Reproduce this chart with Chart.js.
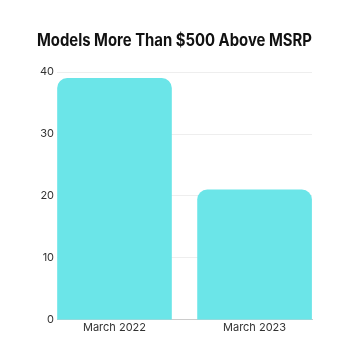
<!DOCTYPE html>
<html><head><meta charset="utf-8">
<script src="https://cdn.jsdelivr.net/npm/chart.js@4"></script>
<style>html,body{margin:0;padding:0;background:#fff;}#w{width:350px;height:350px;}</style>
</head><body><div id="w"><canvas id="c" width="350" height="350"></canvas></div>
<script>
const categories = ["March 2022", "March 2023"];
const values = [39, 21];
const titleText = "Models More Than $500 Above MSRP";
const points = values.map((v, i) => ({ x: i, y: v }));
new Chart(document.getElementById('c'), {
  type: 'bar',
  data: { datasets: [{ data: points, backgroundColor: '#6be5e8', borderRadius: 10, borderSkipped: 'bottom', barThickness: 114 }] },
  options: {
    responsive: false, animation: false,
    layout: { padding: { left: 37, right: 38, top: 31, bottom: 15 } },
    plugins: {
      legend: { display: false },
      title: { display: true, text: titleText, color: '#111', font: { family: 'Inter', size: 16.8, weight: 'bold' }, padding: { top: 0, bottom: 21 } },
      tooltip: { enabled: false }
    },
    scales: {
      x: { type: 'linear', offset: false, min: -0.41, max: 1.41, grid: { display: false, drawTicks: false }, border: { color: '#ccc' },
           afterBuildTicks: (s) => { s.ticks = categories.map((c, i) => ({ value: i })); },
           ticks: { padding: 1, callback: (v) => categories[v], color: '#333', font: { family: 'Inter', size: 11 } } },
      y: { min: 0, max: 40, ticks: { stepSize: 10, color: '#333', padding: 3, font: { family: 'Inter', size: 11 } }, grid: { color: '#eee', drawTicks: false }, border: { display: false } }
    }
  }
});
</script></body></html>
